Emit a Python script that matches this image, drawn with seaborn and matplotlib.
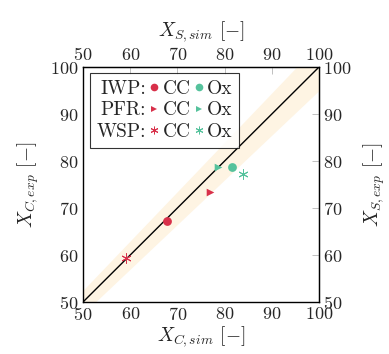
import numpy as np
import pandas as pd
import seaborn as sns
import matplotlib.pyplot as plt
from matplotlib.lines import Line2D

# data
reactors = ["IWP", "PFR", "WSP", "IWP", "PFR", "WSP"]
species = ["CC", "CC", "CC", "Ox", "Ox", "Ox"]
x_sim = [67.7, 76.9, 59.2, 81.6, 78.5, 84.0]
y_exp = [67.2, 73.4, 59.3, 78.7, 78.7, 77.3]

parity = [50, 100]
tol = 0.05
ticks = [50, 60, 70, 80, 90, 100]

df = pd.DataFrame({"reactor": reactors, "species": species, "x": x_sim, "y": y_exp})

sns.set_style("white")
plt.rcParams["font.family"] = "serif"
plt.rcParams["font.serif"] = ["cmr10"]
plt.rcParams["mathtext.fontset"] = "cm"
plt.rcParams["axes.formatter.use_mathtext"] = True

colors = {"CC": "#d8304a", "Ox": "#55c29c"}
markers = {"IWP": "o", "PFR": ">", "WSP": (6, 2, 0)}
sizes = {"IWP": 40, "PFR": 30, "WSP": 45}

fig = plt.figure(figsize=(3.89, 3.54), dpi=100)
ax = fig.add_axes([0.2134, 0.1469, 0.6067, 0.6638])

px = np.array(parity, dtype=float)
ax.fill_between(px, px * (1 - tol), px * (1 + tol), color="#fef4e3", lw=0, zorder=1)
ax.plot(px, px, color="black", lw=1.0, zorder=2)

for (r, s), g in df.groupby(["reactor", "species"]):
    sns.scatterplot(data=g, x="x", y="y", ax=ax, color=colors[s], marker=markers[r],
                    s=sizes[r], linewidth=0.7 if r == "WSP" else 0,
                    edgecolor=colors[s], zorder=3, legend=False)

ax.set_xlim(50, 100)
ax.set_ylim(50, 100)
ax.set_xticks(ticks)
ax.set_yticks(ticks)
for sp in ax.spines.values():
    sp.set_color("black")
    sp.set_linewidth(1.0)
ax.tick_params(direction="in", length=5, width=0.6, color="#b5b5b5", labelsize=13,
               top=True, right=True, pad=3)
ax.set_xlabel(r"$X_{C,sim}$ [$-$]", fontsize=14, labelpad=1)
ax.set_ylabel(r"$X_{C,exp}$ [$-$]", fontsize=14, labelpad=7)

sx = ax.secondary_xaxis("top")
sx.set_xticks(ticks)
sx.tick_params(direction="in", length=0, labelsize=13, pad=3)
sx.set_xlabel(r"$X_{S,sim}$ [$-$]", fontsize=14, labelpad=7)
sy = ax.secondary_yaxis("right")
sy.set_yticks(ticks)
sy.tick_params(direction="in", length=0, labelsize=13, pad=3)
sy.set_ylabel(r"$X_{S,exp}$ [$-$]", fontsize=14, labelpad=7)

# legend laid out as a 3x3 matrix: row title, CC, Ox
blank = Line2D([], [], linestyle="none", marker=None)
handles, labels = [], []
for r in ["IWP", "PFR", "WSP"]:
    handles.append(blank)
    labels.append(r + ":")
for s in ["CC", "Ox"]:
    for r in ["IWP", "PFR", "WSP"]:
        handles.append(Line2D([], [], linestyle="none", marker=markers[r], color=colors[s],
                              markersize=5.5 if r != "PFR" else 5,
                              markeredgewidth=0.7 if r == "WSP" else 0))
        labels.append(s)
leg = ax.legend(handles, labels, ncol=3, loc="upper left", bbox_to_anchor=(0.028, 0.975),
                fontsize=14, frameon=True, fancybox=False, edgecolor="black",
                handlelength=0.45, handletextpad=0.2, columnspacing=0.2,
                labelspacing=0.2, borderpad=0.35, borderaxespad=0)
leg.get_frame().set_linewidth(0.8)
# row titles need no handle space, and their colons line up
title_col = leg._legend_handle_box.get_children()[0]
title_col.align = "right"
for entry in title_col.get_children():
    entry.get_children()[0].width = 0
    entry.sep = 0

plt.savefig("out.png", dpi=100)
